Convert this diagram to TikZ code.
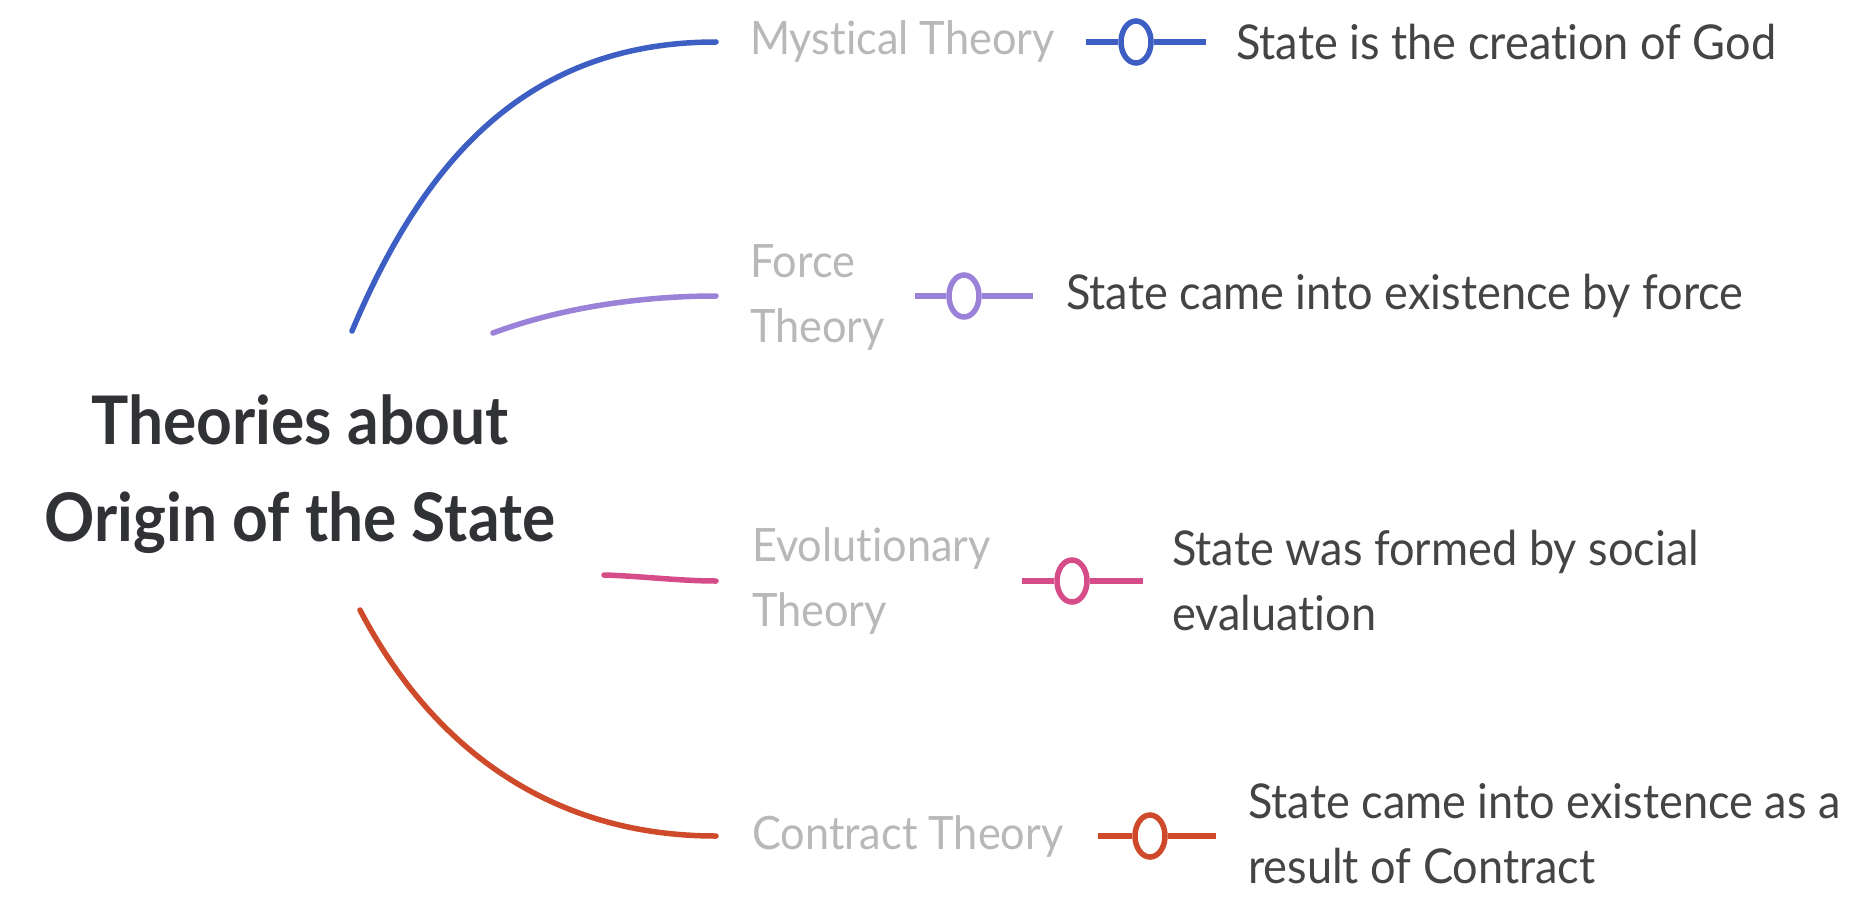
\documentclass[tikz,border=0pt]{standalone}
\usepackage{fontspec}
\setmainfont{Lato}
\newfontfamily\descfont[FakeStretch=0.94,Ligatures=NoCommon]{Lato}
\newfontfamily\titlefont[FakeStretch=0.93]{Lato}
\usetikzlibrary{shapes.geometric}
\definecolor{cblue}{HTML}{3D5FC4}
\definecolor{cpurple}{HTML}{9B82D8}
\definecolor{cpink}{HTML}{D54C88}
\definecolor{cred}{HTML}{CF4A2A}
\definecolor{lgray}{HTML}{B8B8B8}
\definecolor{dgray}{HTML}{444444}
\definecolor{tgray}{HTML}{303236}
\tikzset{
  branch/.style={line width=5.5pt, line cap=round},
  link/.style={line width=6pt},
  lab/.style={text=lgray, font=\descfont\fontsize{46}{65}\selectfont, align=left, inner sep=0pt, anchor=west},
  desc/.style={text=dgray, font=\descfont\fontsize{48}{65}\selectfont, align=left, inner sep=0pt, anchor=west},
  knob/.style={ellipse, draw=#1, fill=white, line width=5.5pt, minimum width=30pt, minimum height=42pt, inner sep=0pt},
  ttl/.style={text=tgray, font=\titlefont\bfseries\fontsize{67}{97}\selectfont, align=center, inner sep=0pt}
}
\begin{document}
\begin{tikzpicture}[x=1pt,y=-1pt]
\fill[white] (0,0) rectangle (1851,915);
\path[use as bounding box] (0,0) rectangle (1851,915);

\node[ttl] (title) at (300,474) {Theories about\\Origin of the State};

% branch start points near the title
\coordinate (s1) at (352,331);
\coordinate (s2) at (493,333);
\coordinate (s3) at (604,575);
\coordinate (s4) at (360,610);
% branch end points
\coordinate (e1) at (716,42);
\coordinate (e2) at (716,296);
\coordinate (e3) at (716,581);
\coordinate (e4) at (716,836);

% labels
\node[lab] (l1) at (750,42) {Mystical Theory};
\node[lab] (l2) at (750,297) {Force\\Theory};
\node[lab] (l3) at (752,581) {Evolutionary\\Theory};
\node[lab] (l4) at (752,836) {Contract Theory};

% knobs
\node[knob=cblue] (k1) at (1136,42) {};
\node[knob=cpurple] (k2) at (964,296) {};
\node[knob=cpink] (k3) at (1072,581) {};
\node[knob=cred] (k4) at (1150,836) {};

% descriptions
\node[desc] (d1) at (1236,42) {State is the creation of God};
\node[desc] (d2) at (1066,296) {State came into existence by force};
\node[desc] (d3) at (1172,581) {State was formed by social\\evaluation};
\node[desc] (d4) at (1248,834) {State came into existence as a\\result of Contract};

% connector free ends
\coordinate (a1) at (1086,42);  \coordinate (b1) at (1206,42);
\coordinate (a2) at (915,296);  \coordinate (b2) at (1033,296);
\coordinate (a3) at (1022,581); \coordinate (b3) at (1143,581);
\coordinate (a4) at (1098,836); \coordinate (b4) at (1216,836);

% branches
\draw[branch, cblue] (s1) .. controls (420,170) and (520,42) .. (e1);
\draw[branch, cpurple] (s2) .. controls (560,308) and (640,296) .. (e2);
\draw[branch, cpink] (s3) .. controls (640,576) and (680,581) .. (e3);
\draw[branch, cred] (s4) .. controls (420,725) and (530,836) .. (e4);

% connectors
\draw[link, cblue] (a1) -- (k1) -- (b1);
\draw[link, cpurple] (a2) -- (k2) -- (b2);
\draw[link, cpink] (a3) -- (k3) -- (b3);
\draw[link, cred] (a4) -- (k4) -- (b4);
\end{tikzpicture}
\end{document}
